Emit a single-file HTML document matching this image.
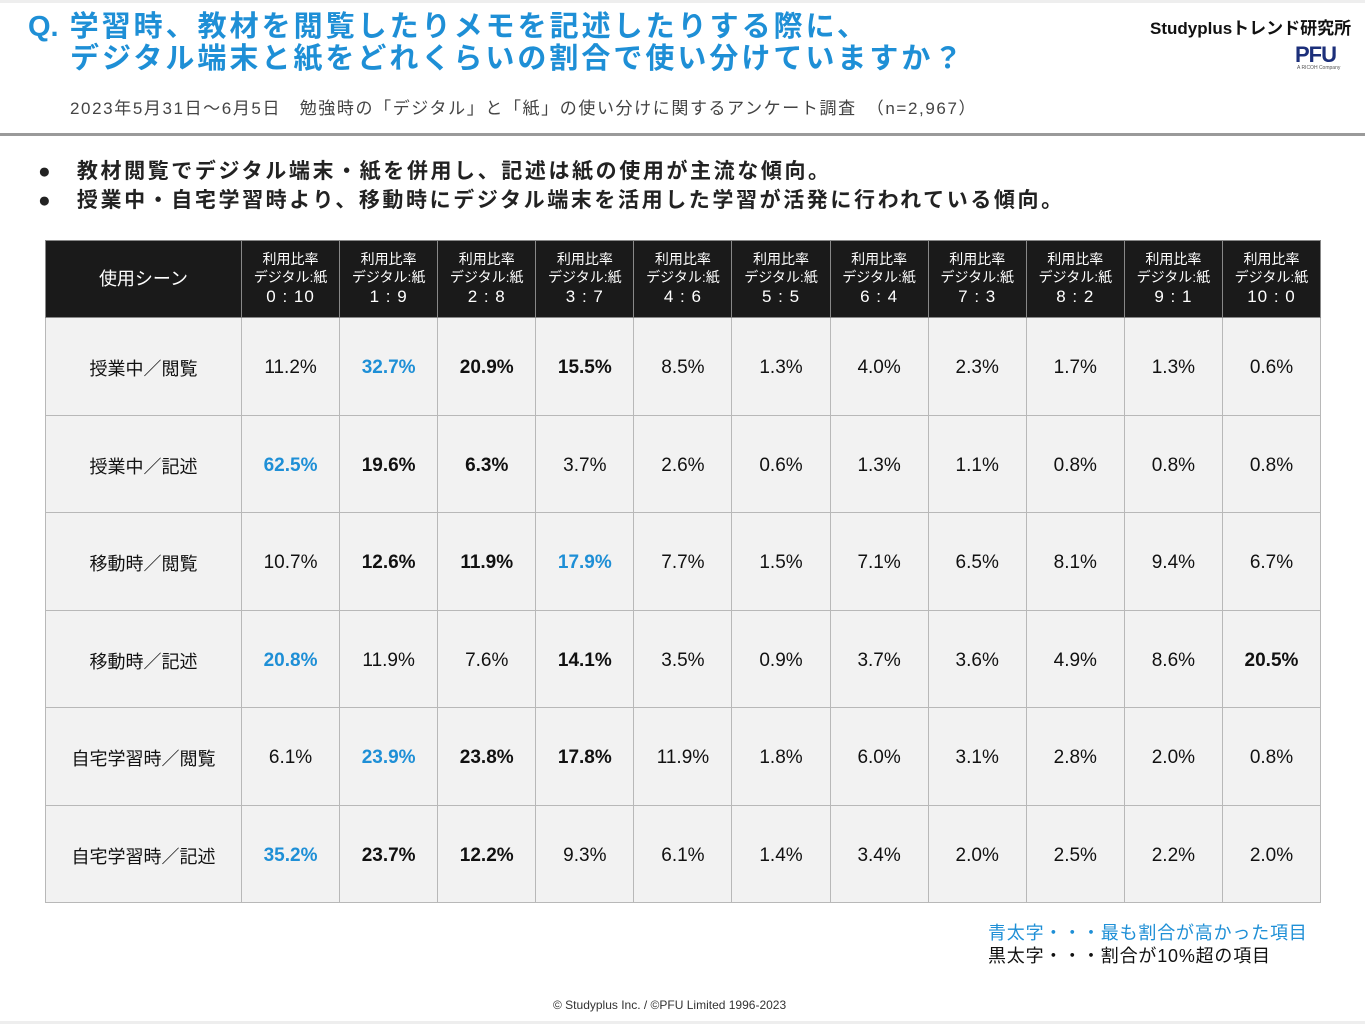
<!DOCTYPE html>
<html><head><meta charset="utf-8"><style>
body{margin:0;width:1365px;height:1024px;background:#fff;position:relative;overflow:hidden;font-family:"Liberation Sans","Noto Sans CJK JP",sans-serif;}
.a{position:absolute;white-space:nowrap;}
table{position:absolute;left:45px;top:240px;border-collapse:collapse;table-layout:fixed;}
td,th{border:1px solid #b8b8b8;text-align:center;padding:0;}
th{background:#1a1a1a;color:#fff;font-weight:normal;height:76px;font-size:14px;line-height:18px;border-color:#888;}
th .r{font-size:17px;line-height:22px;letter-spacing:1px}
td{background:#f2f2f2;height:92.5px;font-size:19px;color:#111;padding-top:4px;}
td.l{font-size:18px;}
.b{font-weight:bold;}
.c{color:#1e8fd6;font-weight:bold;}
</style></head><body>
<div class="a" style="left:0;top:0;width:1365px;height:3px;background:#eee"></div>
<div class="a" style="left:28px;top:11px;font-size:29px;line-height:32px;color:#1e8fd6;font-weight:bold;letter-spacing:3px;"><span style="letter-spacing:0">Q.</span> 学習時、教材を閲覧したりメモを記述したりする際に、<br><span style="padding-left:42px">デジタル端末と紙をどれくらいの割合で使い分けていますか？</span></div>
<div class="a" style="left:70px;top:94px;font-size:17px;color:#444;letter-spacing:1.6px;">2023年5月31日～6月5日　勉強時の「デジタル」と「紙」の使い分けに関するアンケート調査　（n=2,967）</div>
<div class="a" style="left:1150px;top:14px;font-size:17px;color:#111;font-weight:bold;">Studyplusトレンド研究所</div>
<div class="a" style="left:1295px;top:42px;font-size:22px;color:#1c2f7a;font-weight:900;letter-spacing:-1px;">PFU</div>
<div class="a" style="left:1297px;top:65px;font-size:5px;color:#555;">A RICOH Company</div>
<div class="a" style="left:0;top:133px;width:1365px;height:3px;background:#9a9a9a"></div>
<div class="a" style="left:38px;top:157px;font-size:21px;line-height:29px;font-weight:bold;color:#222;letter-spacing:2.6px;">●　教材閲覧でデジタル端末・紙を併用し、記述は紙の使用が主流な傾向。<br>●　授業中・自宅学習時より、移動時にデジタル端末を活用した学習が活発に行われている傾向。</div>
<table>
<colgroup><col style="width:196px"><col span="11" style="width:98.1px"></colgroup>
<tr><th style="font-size:18px">使用シーン</th>
<th>利用比率<br>デジタル:紙<br><span class="r">0 : 10</span></th>
<th>利用比率<br>デジタル:紙<br><span class="r">1 : 9</span></th>
<th>利用比率<br>デジタル:紙<br><span class="r">2 : 8</span></th>
<th>利用比率<br>デジタル:紙<br><span class="r">3 : 7</span></th>
<th>利用比率<br>デジタル:紙<br><span class="r">4 : 6</span></th>
<th>利用比率<br>デジタル:紙<br><span class="r">5 : 5</span></th>
<th>利用比率<br>デジタル:紙<br><span class="r">6 : 4</span></th>
<th>利用比率<br>デジタル:紙<br><span class="r">7 : 3</span></th>
<th>利用比率<br>デジタル:紙<br><span class="r">8 : 2</span></th>
<th>利用比率<br>デジタル:紙<br><span class="r">9 : 1</span></th>
<th>利用比率<br>デジタル:紙<br><span class="r">10 : 0</span></th></tr>
<tr><td class="l">授業中／閲覧</td><td>11.2%</td><td class="c">32.7%</td><td class="b">20.9%</td><td class="b">15.5%</td><td>8.5%</td><td>1.3%</td><td>4.0%</td><td>2.3%</td><td>1.7%</td><td>1.3%</td><td>0.6%</td></tr>
<tr><td class="l">授業中／記述</td><td class="c">62.5%</td><td class="b">19.6%</td><td class="b">6.3%</td><td>3.7%</td><td>2.6%</td><td>0.6%</td><td>1.3%</td><td>1.1%</td><td>0.8%</td><td>0.8%</td><td>0.8%</td></tr>
<tr><td class="l">移動時／閲覧</td><td>10.7%</td><td class="b">12.6%</td><td class="b">11.9%</td><td class="c">17.9%</td><td>7.7%</td><td>1.5%</td><td>7.1%</td><td>6.5%</td><td>8.1%</td><td>9.4%</td><td>6.7%</td></tr>
<tr><td class="l">移動時／記述</td><td class="c">20.8%</td><td>11.9%</td><td>7.6%</td><td class="b">14.1%</td><td>3.5%</td><td>0.9%</td><td>3.7%</td><td>3.6%</td><td>4.9%</td><td>8.6%</td><td class="b">20.5%</td></tr>
<tr><td class="l">自宅学習時／閲覧</td><td>6.1%</td><td class="c">23.9%</td><td class="b">23.8%</td><td class="b">17.8%</td><td>11.9%</td><td>1.8%</td><td>6.0%</td><td>3.1%</td><td>2.8%</td><td>2.0%</td><td>0.8%</td></tr>
<tr><td class="l">自宅学習時／記述</td><td class="c">35.2%</td><td class="b">23.7%</td><td class="b">12.2%</td><td>9.3%</td><td>6.1%</td><td>1.4%</td><td>3.4%</td><td>2.0%</td><td>2.5%</td><td>2.2%</td><td>2.0%</td></tr>
</table>
<div class="a" style="left:988px;top:922px;font-size:18px;line-height:23px;color:#1e8fd6;letter-spacing:0.8px;">青太字・・・最も割合が高かった項目</div>
<div class="a" style="left:988px;top:945px;font-size:18px;line-height:23px;color:#111;letter-spacing:0.8px;">黒太字・・・割合が10%超の項目</div>
<div class="a" style="left:553px;top:998px;font-size:12px;color:#333;">© Studyplus Inc. / ©PFU Limited 1996-2023</div>
<div class="a" style="left:0;top:1021px;width:1365px;height:3px;background:#eee"></div>
</body></html>
